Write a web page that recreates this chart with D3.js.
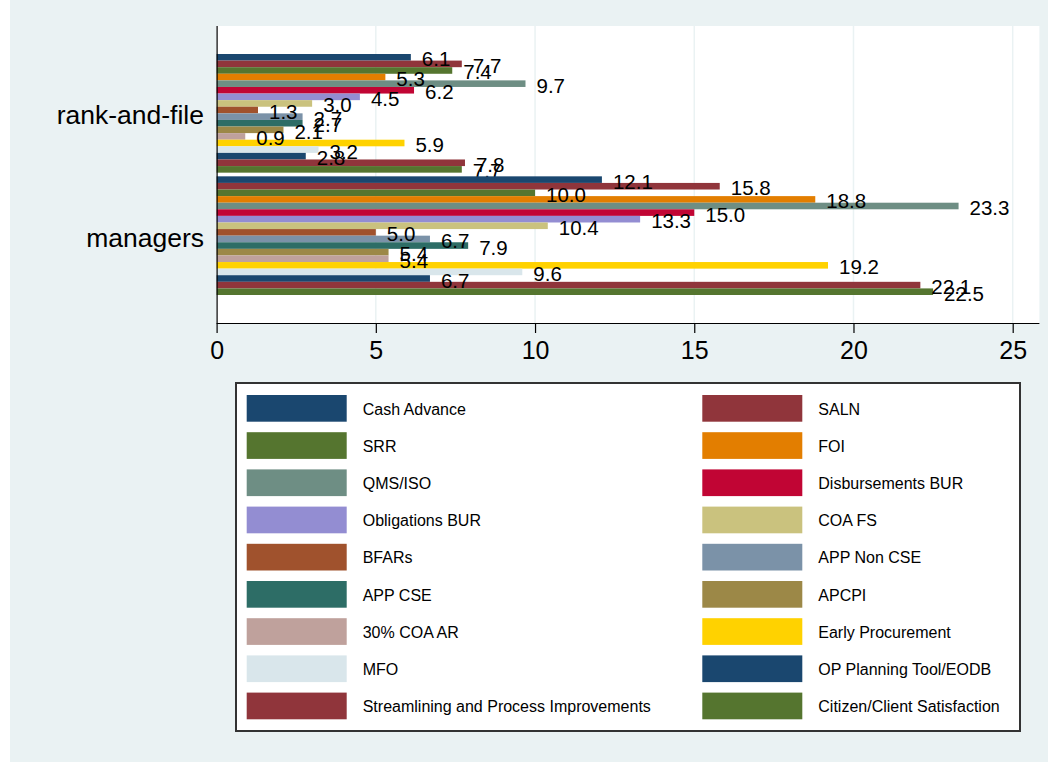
<!DOCTYPE html>
<html><head><meta charset="utf-8">
<script src="https://cdn.jsdelivr.net/npm/d3@7/dist/d3.min.js"></script>
<style>
html,body{margin:0;padding:0;background:#fff;}
svg{display:block;font-family:"Liberation Sans",Arial,Helvetica,sans-serif;}
</style></head>
<body>
<svg id="chart" width="1048" height="762"></svg>
<script>
const categories = ["rank-and-file", "managers"];
const seriesNames = ["Cash Advance","SALN","SRR","FOI","QMS/ISO","Disbursements BUR","Obligations BUR","COA FS","BFARs","APP Non CSE","APP CSE","APCPI","30% COA AR","Early Procurement","MFO","OP Planning Tool/EODB","Streamlining and Process Improvements","Citizen/Client Satisfaction"];
const rankFileValues = [6.1,7.7,7.4,5.3,9.7,6.2,4.5,3.0,1.3,2.7,2.7,2.1,0.9,5.9,3.2,2.8,7.8,7.7];
const managerValues = [12.1,15.8,10.0,18.8,23.3,15.0,13.3,10.4,5.0,6.7,7.9,5.4,5.4,19.2,9.6,6.7,22.1,22.5];
const seriesColors = ["#1a476f","#90353b","#55752f","#e37e00","#6e8e84","#c10534","#938dd2","#cac27e","#a0522d","#7b92a8","#2d6d66","#9c8847","#bfa19c","#ffd200","#d9e6eb","#1a476f","#90353b","#55752f"];
const xTicks = [0,5,10,15,20,25];

const valuesByCategory = {"rank-and-file": rankFileValues, "managers": managerValues};

const svg = d3.select("#chart");
const bg = "#eaf2f3";
svg.append("rect").attr("x",10).attr("y",0).attr("width",1038).attr("height",762).attr("fill",bg);

const plot = {left:216.6, right:1039.4, top:26, bottom:323};
svg.append("rect").attr("x",plot.left).attr("y",plot.top).attr("width",plot.right-plot.left).attr("height",plot.bottom-plot.top).attr("fill","#fff");

const x = d3.scaleLinear().domain([0,25]).range([plot.left, 1012.7]);
const yGroup = d3.scaleBand().domain(categories).range([plot.top+28, plot.bottom-28]).paddingInner(0.03);
const ySeries = d3.scaleBand().domain(d3.range(seriesNames.length)).range([0, yGroup.bandwidth()]).padding(0);

// gridlines
svg.append("g").selectAll("line").data(xTicks.filter(t=>t>0)).join("line")
  .attr("x1",d=>x(d)).attr("x2",d=>x(d)).attr("y1",plot.top).attr("y2",plot.bottom)
  .attr("stroke",bg).attr("stroke-width",1.5);

// bars
const groups = svg.append("g").selectAll("g").data(categories).join("g")
  .attr("transform",d=>`translate(0,${yGroup(d)})`);
groups.selectAll("rect").data(c=>valuesByCategory[c].map((v,i)=>({v,i}))).join("rect")
  .attr("x",x(0)).attr("y",d=>ySeries(d.i)).attr("width",d=>x(d.v)-x(0)).attr("height",ySeries.bandwidth())
  .attr("fill",d=>seriesColors[d.i]);
groups.selectAll("text").data(c=>valuesByCategory[c].map((v,i)=>({v,i}))).join("text")
  .attr("x",d=>x(d.v)+11).attr("y",d=>ySeries(d.i)+ySeries.bandwidth()/2+1.5)
  .attr("dominant-baseline","central").attr("font-size",20.5).attr("fill","#000")
  .text(d=>d.v.toFixed(1));

// axes
const xAxis = d3.axisBottom(x).tickValues(xTicks).tickSize(10).tickPadding(8).tickFormat(d3.format("d"));
const gx = svg.append("g").attr("transform",`translate(0,${plot.bottom})`).call(xAxis);
gx.select(".domain").attr("d",`M${plot.left},0.5H${plot.right}`).attr("stroke","#000").attr("stroke-width",1.2);
gx.selectAll(".tick line").attr("stroke","#000").attr("stroke-width",1.2);
gx.selectAll(".tick text").attr("font-size",25).attr("font-family","Liberation Sans, Arial, sans-serif").attr("fill","#000");

const yAxis = d3.axisLeft(yGroup).tickSize(0).tickPadding(12.6);
const gy = svg.append("g").attr("transform",`translate(${plot.left},0)`).call(yAxis);
gy.select(".domain").attr("d",`M0.5,${plot.top}V${plot.bottom}`).attr("stroke","#000").attr("stroke-width",1.2);
gy.selectAll(".tick text").attr("font-size",26.5).attr("font-family","Liberation Sans, Arial, sans-serif").attr("fill","#000").attr("dy","0.42em");

// legend
const lg = {x:236, y:383, w:784, h:348};
svg.append("rect").attr("x",lg.x).attr("y",lg.y).attr("width",lg.w).attr("height",lg.h)
  .attr("fill","#fff").attr("stroke","#333").attr("stroke-width",2);
const items = svg.append("g").selectAll("g").data(seriesNames).join("g")
  .attr("transform",(d,i)=>`translate(${i%2===0?246.7:702.3},${395+Math.floor(i/2)*37.2})`);
items.append("rect").attr("width",100).attr("height",26.7).attr("fill",(d,i)=>seriesColors[i]);
items.append("text").attr("x",116).attr("y",14).attr("dominant-baseline","central")
  .attr("font-size",16).attr("fill","#000").text(d=>d);
</script>
</body></html>
